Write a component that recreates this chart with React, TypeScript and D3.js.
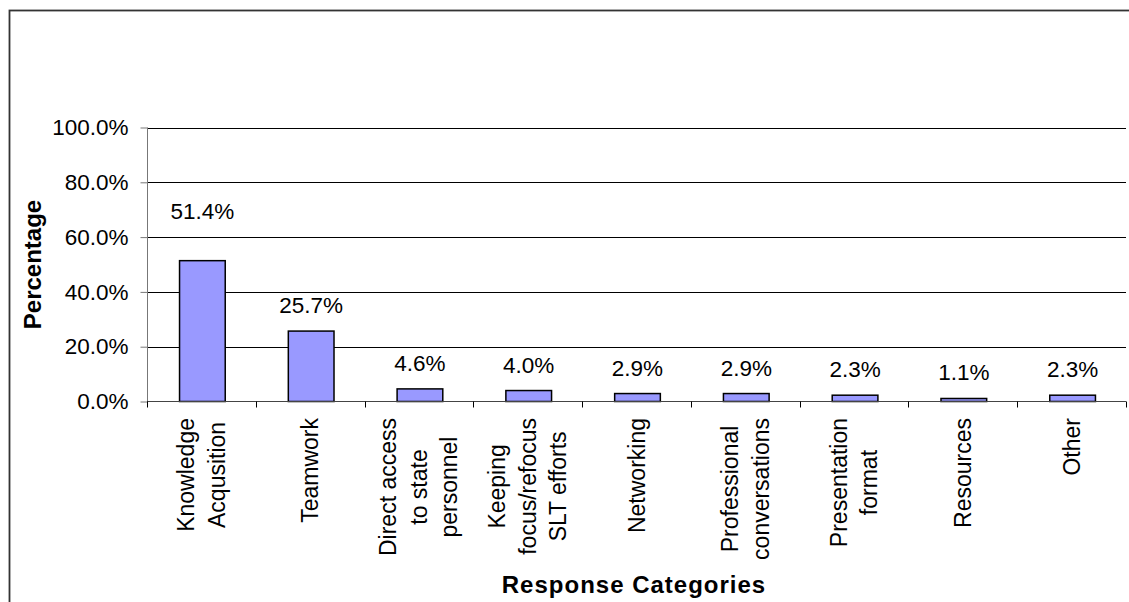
// @ts-nocheck
import React, { useRef, useEffect } from 'react';
import * as d3 from 'd3';

// chart data
const categories = [
  'Knowledge Acqusition',
  'Teamwork',
  'Direct access to state personnel',
  'Keeping focus/refocus SLT efforts',
  'Networking',
  'Professional conversations',
  'Presentation format',
  'Resources',
  'Other',
];
// how each category label is broken into lines
const categoryLines = [
  ['Knowledge', 'Acqusition'],
  ['Teamwork'],
  ['Direct access', 'to state', 'personnel'],
  ['Keeping', 'focus/refocus', 'SLT efforts'],
  ['Networking'],
  ['Professional', 'conversations'],
  ['Presentation', 'format'],
  ['Resources'],
  ['Other'],
];
const percentages = [0.514, 0.257, 0.046, 0.04, 0.029, 0.029, 0.023, 0.011, 0.023];
const yTicks = [0, 0.2, 0.4, 0.6, 0.8, 1.0];

const WIDTH = 1129;
const HEIGHT = 602;
const FONT = 'Liberation Sans, Arial, Helvetica, sans-serif';

const App: React.FC = () => {
  const svgRef = useRef(null);

  useEffect(() => {
    const svg = d3.select(svgRef.current);
    svg.selectAll('*').remove();

    const plot = { left: 147, right: 1126, top: 127.5, bottom: 401.5 };

    const x = d3.scaleBand()
      .domain(categories)
      .range([plot.left, plot.right])
      .paddingInner(0)
      .paddingOuter(0);

    const y = d3.scaleLinear()
      .domain([0, 1])
      .range([plot.bottom, plot.top]);

    const fmt = d3.format('.1%');

    // outer chart border
    svg.append('rect')
      .attr('x', 9.5)
      .attr('y', 10.5)
      .attr('width', 1300)
      .attr('height', 800)
      .attr('fill', 'none')
      .attr('stroke', '#333')
      .attr('stroke-width', 1.8);

    // gridlines
    svg.append('g')
      .selectAll('line')
      .data(yTicks.filter(d => d > 0))
      .enter().append('line')
      .attr('x1', plot.left)
      .attr('x2', plot.right)
      .attr('y1', d => Math.round(y(d)) + 0.5)
      .attr('y2', d => Math.round(y(d)) + 0.5)
      .attr('stroke', '#000')
      .attr('stroke-width', 1);

    // y axis
    const yAxis = svg.append('g')
      .attr('transform', `translate(${plot.left + 0.5},0)`)
      .call(d3.axisLeft(y).tickValues(yTicks).tickFormat(fmt).tickSize(7).tickPadding(12));
    yAxis.select('.domain').attr('stroke', '#777').attr('d', `M0,${plot.top}V${plot.bottom}`);
    yAxis.selectAll('.tick line').attr('stroke', '#777');
    yAxis.selectAll('.tick text')
      .attr('font-family', FONT)
      .attr('font-size', 22.5)
      .attr('fill', '#000');

    // bars
    const barW = x.bandwidth() * 0.42;
    svg.append('g')
      .selectAll('rect')
      .data(percentages)
      .enter().append('rect')
      .attr('x', (d, i) => x(categories[i]) + x.bandwidth() / 2 - barW / 2 + 1)
      .attr('y', d => y(d))
      .attr('width', barW)
      .attr('height', d => plot.bottom - y(d))
      .attr('fill', '#9999FF')
      .attr('stroke', '#000')
      .attr('stroke-width', 1.5);

    // x axis baseline and ticks
    svg.append('line')
      .attr('x1', plot.left)
      .attr('x2', plot.right)
      .attr('y1', plot.bottom)
      .attr('y2', plot.bottom)
      .attr('stroke', '#444')
      .attr('stroke-width', 1.2);
    const tickXs = categories.map(c => x(c)).concat([plot.right]);
    svg.append('g')
      .selectAll('line')
      .data(tickXs)
      .enter().append('line')
      .attr('x1', d => Math.round(d) + 0.5)
      .attr('x2', d => Math.round(d) + 0.5)
      .attr('y1', plot.bottom)
      .attr('y2', plot.bottom + 6)
      .attr('stroke', '#000');

    // value labels (first one was nudged up in the original)
    svg.append('g')
      .selectAll('text')
      .data(percentages)
      .enter().append('text')
      .attr('x', (d, i) => x(categories[i]) + x.bandwidth() / 2 + 1)
      .attr('y', (d, i) => y(d) - 18 - (i === 0 ? 24 : 0))
      .attr('text-anchor', 'middle')
      .attr('font-family', FONT)
      .attr('font-size', 22.5)
      .attr('fill', '#000')
      .text(d => fmt(d));

    // rotated multi-line category labels, top-aligned under the axis
    const lineGap = 30.5;
    const labelTop = 418;
    categoryLines.forEach((lines, i) => {
      const cx = x(categories[i]) + x.bandwidth() / 2;
      const g = svg.append('g');
      const texts = lines.map((line, j) => {
        const lx = cx + (j - (lines.length - 1) / 2) * lineGap + 8;
        return g.append('text')
          .attr('text-anchor', 'middle')
          .attr('font-family', FONT)
          .attr('font-size', 23)
          .attr('fill', '#000')
          .attr('data-x', lx)
          .text(line);
      });
      const maxLen = d3.max(texts, t => t.node().getComputedTextLength());
      texts.forEach(t => {
        const lx = +t.attr('data-x');
        t.attr('transform', `translate(${lx},${labelTop + maxLen / 2}) rotate(-90)`);
      });
    });

    // axis titles
    svg.append('text')
      .attr('transform', `translate(41,${(plot.top + plot.bottom) / 2}) rotate(-90)`)
      .attr('text-anchor', 'middle')
      .attr('font-family', FONT)
      .attr('font-size', 24)
      .attr('font-weight', 'bold')
      .attr('fill', '#000')
      .text('Percentage');

    svg.append('text')
      .attr('x', 634)
      .attr('y', 593)
      .attr('text-anchor', 'middle')
      .attr('font-family', FONT)
      .attr('font-size', 24)
      .attr('font-weight', 'bold')
      .attr('letter-spacing', 1)
      .attr('fill', '#000')
      .text('Response Categories');
  }, []);

  return (
    <svg
      ref={svgRef}
      width={WIDTH}
      height={HEIGHT}
      style={{ position: 'absolute', left: 0, top: 0, background: '#fff' }}
    />
  );
};

export default App;
